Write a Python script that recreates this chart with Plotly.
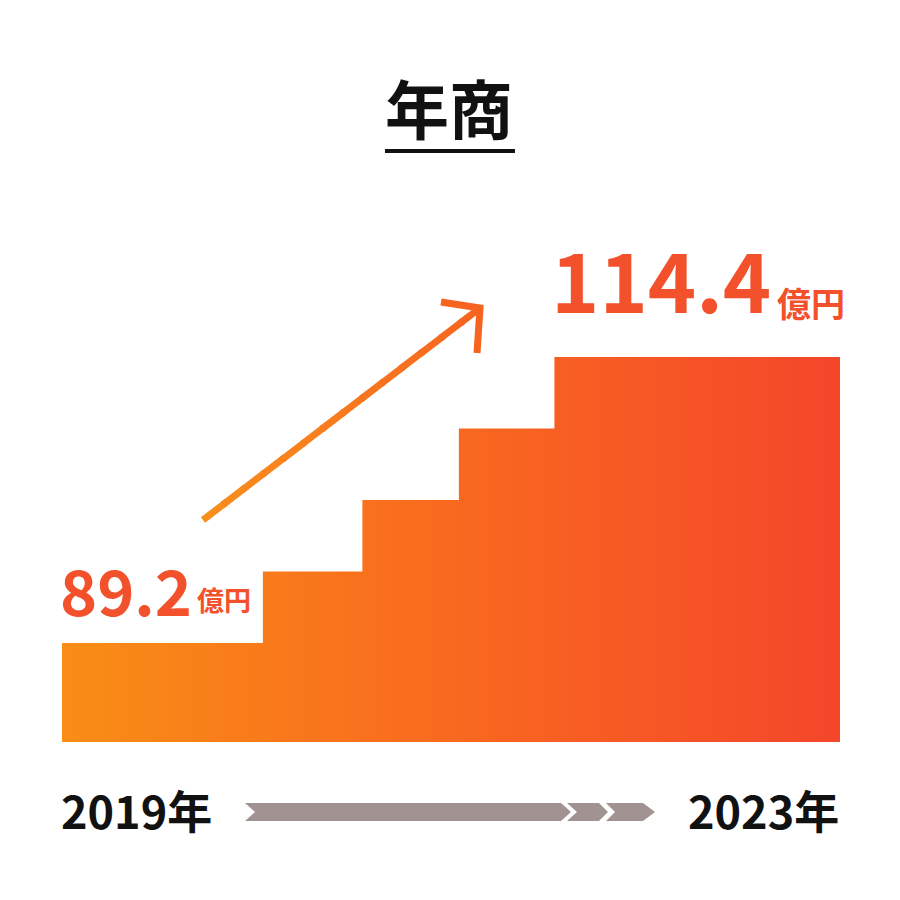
import plotly.graph_objects as go

# ---- data ----
years = [2019, 2020, 2021, 2022, 2023]
revenue = [89.2, 95.5, 101.8, 108.1, 114.4]          # 億円 (step heights)
step_start = [0.0, 2.04, 3.05, 4.03, 5.0]             # horizontal start of each step
step_end = 7.9
title = "年商"
unit = "億円"
first_label = "89.2"
last_label = "114.4"
year_labels = ["2019年", "2023年"]

FONT = "Noto Sans CJK JP"
RED = "#F3512B"
GREY = "#A29393"

W = H = 900
ML, MR, MT, MB = 62, 60, 200, 158
PW, PH = W - ML - MR, H - MT - MB


def px(x):
    return (x - ML) / PW


def py(y):
    return (H - MB - y) / PH


xs = step_start + [step_end]
ys = revenue + [revenue[-1]]

fig = go.Figure()
fig.add_trace(go.Scatter(
    x=xs, y=ys, mode="lines", line=dict(width=0, shape="hv"),
    fill="tozeroy",
    fillgradient=dict(type="horizontal", start=xs[0], stop=xs[-1],
                      colorscale=[[0, "#F88D16"], [0.5, "#F9691F"], [1, "#F3462A"]]),
    hoverinfo="skip", showlegend=False,
))

shapes = []
# arrow shaft with gradient
tail = (203, 520)
tip = (480, 308)
n = 14
c0 = (248, 144, 28)
c1 = (247, 100, 32)
for i in range(n):
    t0, t1 = i / n, (i + 1) / n
    xa = tail[0] + (tip[0] - tail[0]) * t0
    ya = tail[1] + (tip[1] - tail[1]) * t0
    xb = tail[0] + (tip[0] - tail[0]) * min(1, t1 + 0.01)
    yb = tail[1] + (tip[1] - tail[1]) * min(1, t1 + 0.01)
    tm = (t0 + t1) / 2
    col = "rgb(%d,%d,%d)" % tuple(round(a + (b - a) * tm) for a, b in zip(c0, c1))
    shapes.append(dict(type="line", xref="paper", yref="paper",
                       x0=px(xa), y0=py(ya), x1=px(xb), y1=py(yb),
                       line=dict(color=col, width=7)))
shapes.append(dict(type="path", xref="paper", yref="paper",
                   path="M %f,%f L %f,%f L %f,%f" % (px(441), py(302), px(tip[0]), py(tip[1]), px(477), py(353)),
                   line=dict(color="rgb(247,100,32)", width=7)))

# title underline
shapes.append(dict(type="line", xref="paper", yref="paper",
                   x0=px(385), x1=px(515), y0=py(151), y1=py(151),
                   line=dict(color="#111111", width=4)))

# chevron progress bar
top, bot = 803, 821
mid = (top + bot) / 2
segs = [(245, 561, 10, 10), (567, 599, 10, 9), (606, 643, 9, 12)]
for xl, xr, dl, dr in segs:
    pts = [(xl, top), (xr, top), (xr + dr, mid), (xr, bot), (xl, bot), (xl + dl, mid)]
    path = "M " + " L ".join("%f,%f" % (px(a), py(b)) for a, b in pts) + " Z"
    shapes.append(dict(type="path", xref="paper", yref="paper", path=path,
                       fillcolor=GREY, line=dict(width=0)))

annotations = [
    dict(text=title, x=px(449), y=py(106), xref="paper", yref="paper",
         xanchor="center", yanchor="middle", showarrow=False,
         font=dict(family=FONT, size=64, color="#111111", weight=700)),
    dict(text=first_label, x=px(58), y=py(588), xref="paper", yref="paper",
         xanchor="left", yanchor="middle", showarrow=False,
         font=dict(family=FONT, size=63, color=RED, weight=700)),
    dict(text=unit, x=px(195), y=py(599), xref="paper", yref="paper",
         xanchor="left", yanchor="middle", showarrow=False,
         font=dict(family=FONT, size=27, color=RED, weight=700)),
    dict(text=last_label, x=px(549), y=py(277), xref="paper", yref="paper",
         xanchor="left", yanchor="middle", showarrow=False,
         font=dict(family=FONT, size=82, color=RED, weight=700)),
    dict(text=unit, x=px(775), y=py(302), xref="paper", yref="paper",
         xanchor="left", yanchor="middle", showarrow=False,
         font=dict(family=FONT, size=34, color=RED, weight=700)),
    dict(text=year_labels[0], x=px(59), y=py(809), xref="paper", yref="paper",
         xanchor="left", yanchor="middle", showarrow=False,
         font=dict(family=FONT, size=45, color="#111111", weight=700)),
    dict(text=year_labels[1], x=px(841), y=py(809), xref="paper", yref="paper",
         xanchor="right", yanchor="middle", showarrow=False,
         font=dict(family=FONT, size=45, color="#111111", weight=700)),
]

fig.update_layout(
    width=W, height=H, margin=dict(l=ML, r=MR, t=MT, b=MB, pad=0),
    paper_bgcolor="white", plot_bgcolor="white",
    xaxis=dict(range=[0, step_end], visible=False, fixedrange=True),
    yaxis=dict(range=[80.477, 128.234], visible=False, fixedrange=True),
    shapes=shapes, annotations=annotations, showlegend=False,
)

fig.write_html("out.html")
